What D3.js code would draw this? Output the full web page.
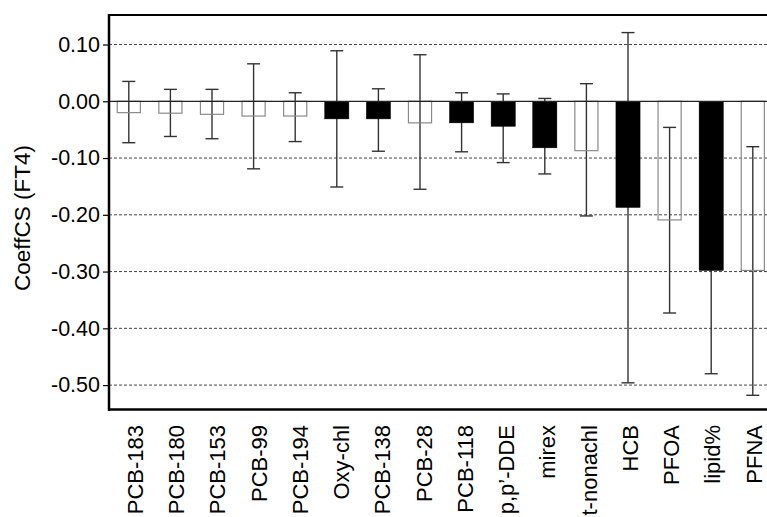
<!DOCTYPE html>
<html>
<head>
<meta charset="utf-8">
<script src="https://cdn.jsdelivr.net/npm/d3@7/dist/d3.min.js"></script>
<style>
  html, body { margin: 0; padding: 0; background: #fff; }
  svg { display: block; }
  text { font-family: "Liberation Sans", Arial, Helvetica, sans-serif; fill: #000; }
</style>
</head>
<body>
<svg id="chart" width="767" height="517"></svg>
<script>
// ---- data ----
const categories = ["PCB-183","PCB-180","PCB-153","PCB-99","PCB-194","Oxy-chl","PCB-138","PCB-28","PCB-118","p,p\u2019-DDE","mirex","t-nonachl","HCB","PFOA","lipid%","PFNA"];
const values     = [-0.020,-0.021,-0.023,-0.026,-0.026,-0.031,-0.031,-0.038,-0.038,-0.044,-0.082,-0.087,-0.187,-0.209,-0.298,-0.298];
const errLow     = [-0.073,-0.062,-0.066,-0.119,-0.071,-0.151,-0.088,-0.155,-0.089,-0.108,-0.128,-0.202,-0.496,-0.373,-0.480,-0.518];
const errHigh    = [ 0.035, 0.021, 0.021, 0.066, 0.015, 0.089, 0.022, 0.082, 0.015, 0.013, 0.005, 0.031, 0.121,-0.046,-0.116,-0.080];
const filled     = [false,false,false,false,false,true,true,false,true,true,true,false,true,false,true,false];
const yTicks     = [0.10, 0.00, -0.10, -0.20, -0.30, -0.40, -0.50];
const yTitle     = "CoeffCS (FT4)";

// ---- layout ----
const svg = d3.select("#chart");
const plotLeft = 109, plotTop = 15, plotBottom = 409.5;
const x = d3.scaleBand().domain(categories).range([108, 773.6]).paddingInner(0.42).paddingOuter(0.21);
const xLab = d3.scalePoint().domain(categories).range([135, 753.5]);
const y = d3.scaleLinear().domain([-0.543, 0.152]).range([plotBottom, plotTop]);
const fmt = v => d3.format(".2f")(v).replace("\u2212", "-");

// gridlines
svg.append("g").selectAll("line").data(yTicks.filter(t => t !== 0)).join("line")
  .attr("x1", plotLeft).attr("x2", 767)
  .attr("y1", d => y(d)).attr("y2", d => y(d))
  .attr("stroke", "#444").attr("stroke-width", 1).attr("stroke-dasharray", "3,2");

const data = categories.map((c, i) => ({c, v: values[i], lo: errLow[i], hi: errHigh[i], f: filled[i]}));

// error bars (behind bars, so hidden inside filled bars)
const eb = svg.append("g").attr("stroke", "#333").attr("stroke-width", 1.4);
data.forEach(d => {
  const cx = x(d.c) + x.bandwidth() / 2;
  eb.append("line").attr("x1", cx).attr("x2", cx).attr("y1", y(d.hi)).attr("y2", y(d.lo));
  eb.append("line").attr("x1", cx - 6.5).attr("x2", cx + 6.5).attr("y1", y(d.hi)).attr("y2", y(d.hi));
  eb.append("line").attr("x1", cx - 6.5).attr("x2", cx + 6.5).attr("y1", y(d.lo)).attr("y2", y(d.lo));
});

// bars
svg.append("g").selectAll("rect").data(data).join("rect")
  .attr("x", d => x(d.c) + (d.f ? 0 : 0.5))
  .attr("width", d => x.bandwidth() - (d.f ? 0 : 1))
  .attr("y", y(0))
  .attr("height", d => y(d.v) - y(0))
  .attr("fill", d => d.f ? "#000" : "none")
  .attr("stroke", d => d.f ? "#000" : "#8a8a8a")
  .attr("stroke-width", d => d.f ? 0.5 : 1.2);

// zero line
svg.append("line").attr("x1", plotLeft).attr("x2", 767).attr("y1", y(0)).attr("y2", y(0))
  .attr("stroke", "#222").attr("stroke-width", 1.2);

// y axis
const yAxis = d3.axisLeft(y).tickValues(yTicks).tickFormat(fmt).tickSize(5).tickPadding(3);
const ga = svg.append("g").attr("transform", `translate(${plotLeft - 1},0)`).call(yAxis);
ga.select(".domain").remove();
ga.selectAll(".tick line").attr("stroke", "#000").attr("stroke-width", 1.2);
ga.selectAll(".tick text").style("font-size", "21.5px").attr("fill", "#000");

// frame
svg.append("line").attr("x1", plotLeft).attr("x2", plotLeft).attr("y1", plotTop - 1).attr("y2", plotBottom + 1.2)
  .attr("stroke", "#000").attr("stroke-width", 2.5);
svg.append("line").attr("x1", plotLeft - 1).attr("x2", 767).attr("y1", plotTop).attr("y2", plotTop)
  .attr("stroke", "#000").attr("stroke-width", 2.2);
svg.append("line").attr("x1", plotLeft - 1).attr("x2", 767).attr("y1", plotBottom).attr("y2", plotBottom)
  .attr("stroke", "#000").attr("stroke-width", 2.5);

// category labels
svg.append("g").selectAll("text").data(categories).join("text")
  .attr("transform", d => `translate(${xLab(d) + 8},425) rotate(-90)`)
  .attr("text-anchor", "end")
  .style("font-size", "22px")
  .text(d => d);

// y title
svg.append("text")
  .attr("transform", "translate(30,218) rotate(-90)")
  .attr("text-anchor", "middle")
  .style("font-size", "22.5px")
  .text(yTitle);
</script>
</body>
</html>
